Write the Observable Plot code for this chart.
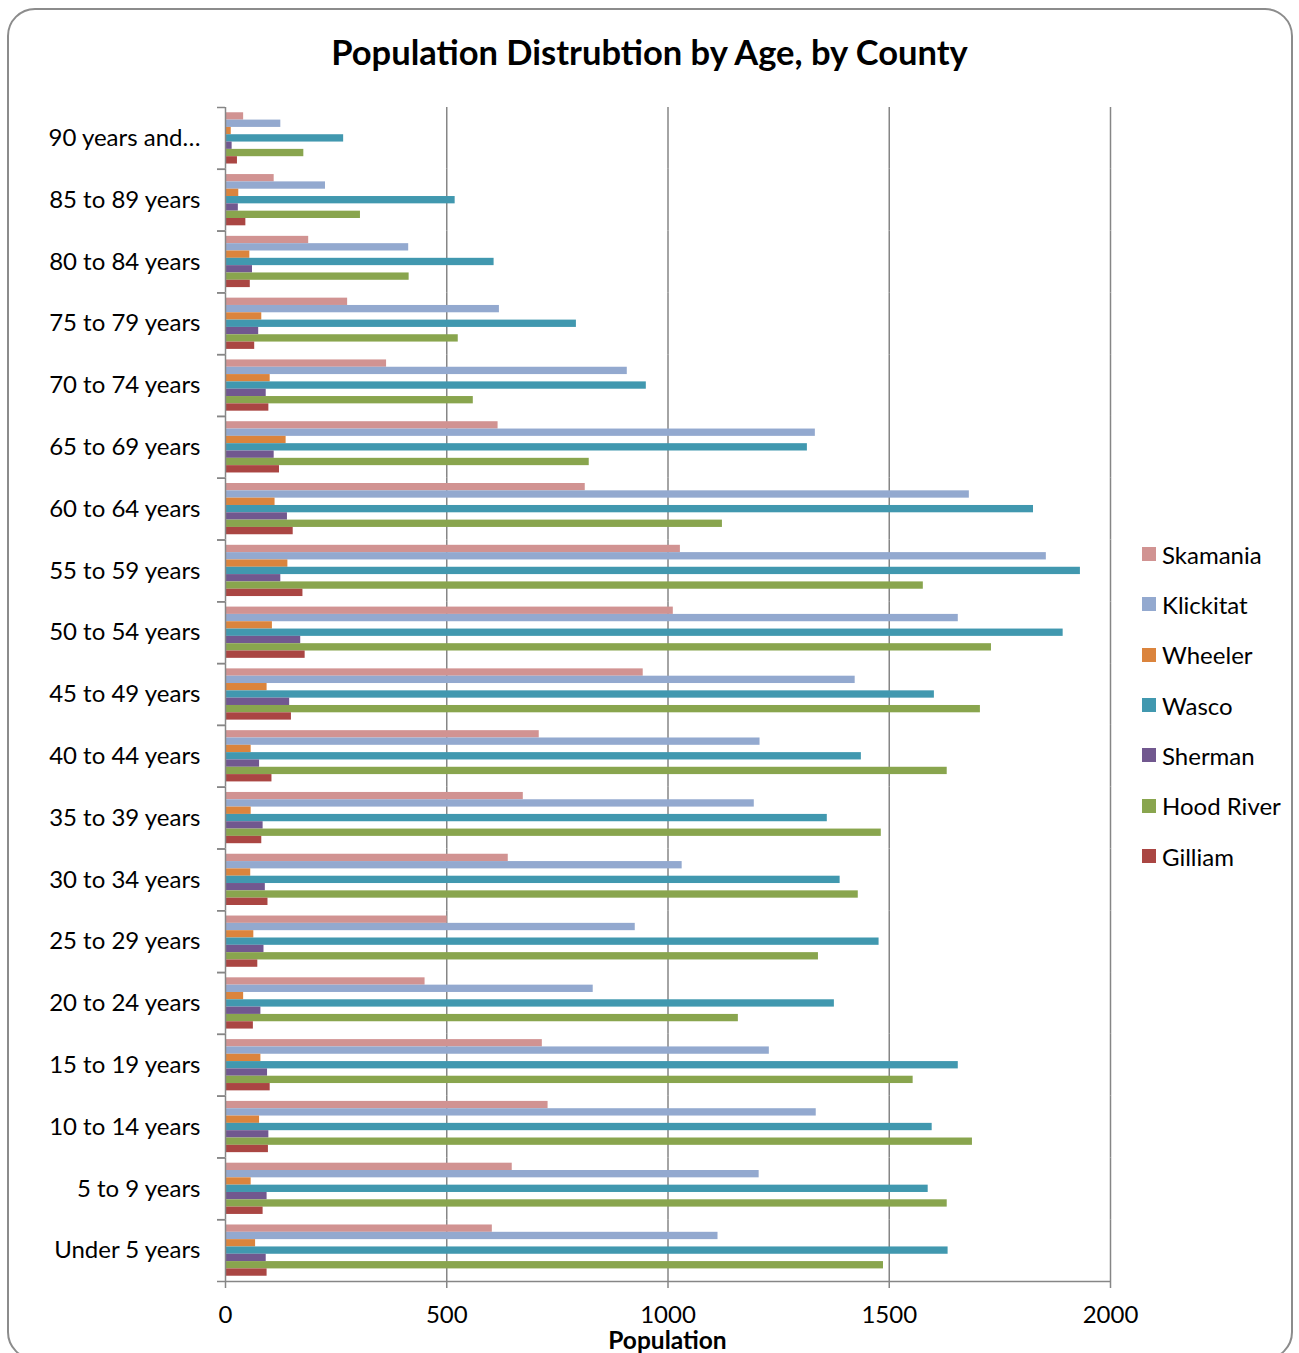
<!DOCTYPE html>
<html><head><meta charset="utf-8">
<script src="https://cdn.jsdelivr.net/npm/d3@7"></script>
<script src="https://cdn.jsdelivr.net/npm/@observablehq/plot@0.6"></script>
<style>
body{margin:0;background:#fff;font-family:Lato,"Open Sans",sans-serif;color:#000;}
#wrap{position:relative;width:1299px;height:1353px;overflow:hidden;}
#border{position:absolute;left:7px;top:8px;width:1286px;height:1352px;border:2px solid #8c8c8c;border-radius:28px;box-sizing:border-box;}
#title{position:absolute;left:0;width:1299px;top:30px;text-align:center;font-weight:bold;font-size:34.5px;line-height:44px;}
#chart{position:absolute;left:0;top:80px;}
#xlabel{position:absolute;left:225px;width:885px;top:1328px;text-align:center;font-weight:bold;font-size:24.5px;line-height:24px;}
#legend{position:absolute;left:1142px;top:529px;}
.row{height:50.33px;display:flex;align-items:center;font-size:24px;}
.sw{width:14px;height:14px;margin-right:6px;}
</style></head>
<body>
<div id="wrap">
  <div id="border"></div>
  <div id="title">Population Distrubtion by Age, by County</div>
  <div id="chart"></div>
  <div id="xlabel">Population</div>
  <div id="legend"></div>
</div>
<script>
const ages = ["Under 5 years","5 to 9 years","10 to 14 years","15 to 19 years","20 to 24 years","25 to 29 years","30 to 34 years","35 to 39 years","40 to 44 years","45 to 49 years","50 to 54 years","55 to 59 years","60 to 64 years","65 to 69 years","70 to 74 years","75 to 79 years","80 to 84 years","85 to 89 years","90 years and…"];
const counties = ["Skamania","Klickitat","Wheeler","Wasco","Sherman","Hood River","Gilliam"];
const colors = ["#D19392","#93A9CF","#DB843D","#4198AF","#71588F","#89A54E","#AA4643"];
const xTicks = [0, 500, 1000, 1500, 2000];

const skamania  = [603, 648, 729, 716, 451, 501, 639, 673, 709, 944, 1012, 1028, 813, 616, 364, 276, 188, 110, 41];
const klickitat = [1113, 1206, 1335, 1229, 831, 926, 1032, 1195, 1208, 1423, 1656, 1855, 1681, 1333, 908, 619, 414, 226, 125];
const wheeler   = [68, 58, 77, 80, 41, 64, 57, 58, 58, 94, 106, 141, 112, 137, 101, 82, 55, 30, 13];
const wasco     = [1633, 1588, 1597, 1656, 1376, 1477, 1389, 1360, 1437, 1602, 1893, 1932, 1826, 1315, 951, 793, 607, 519, 267];
const sherman   = [92, 94, 98, 95, 80, 87, 90, 85, 77, 145, 170, 125, 140, 110, 92, 75, 61, 29, 15];
const hoodRiver = [1487, 1631, 1688, 1554, 1159, 1340, 1430, 1482, 1631, 1706, 1731, 1577, 1123, 822, 560, 526, 415, 305, 177];
const gilliam   = [94, 85, 97, 101, 63, 73, 96, 82, 105, 149, 180, 175, 153, 122, 98, 66, 56, 46, 27];

const series = [skamania, klickitat, wheeler, wasco, sherman, hoodRiver, gilliam];
const data = counties.flatMap((c, j) => ages.map((a, i) => ({county: c, age: a, value: series[j][i]})));

const W = 1299, H = 1273, mT = 27, mB = 72, mL = 225, mR = 189;
const step = (H - mT - mB) / ages.length;
const padOuter = 0.72;
const yStep = step / (counties.length + 2 * padOuter);
const gray = "#868686";

const plot = Plot.plot({
  width: W, height: H,
  marginTop: mT, marginBottom: mB, marginLeft: mL, marginRight: mR,
  style: {fontFamily: "Lato", fontSize: "24px", color: "#000", background: "transparent"},
  x: {domain: [xTicks[0], xTicks[xTicks.length - 1]]},
  y: {domain: counties, paddingInner: 0, paddingOuter: padOuter, round: false, axis: null},
  fy: {domain: ages.slice().reverse(), padding: 0, round: false},
  color: {domain: counties, range: colors},
  marks: [
    Plot.ruleX(xTicks.slice(1), {stroke: gray, strokeWidth: 1.5}),
    Plot.barX(data, {x: "value", y: "county", fy: "age", fill: "county"}),
    Plot.ruleX([xTicks[0]], {stroke: gray, strokeWidth: 1.5}),
    Plot.ruleY([ages[0]], {fy: d => d, y: () => counties[counties.length - 1], x1: xTicks[0], x2: xTicks[xTicks.length - 1], dy: yStep * (padOuter + 0.5), stroke: gray, strokeWidth: 1.5}),
    Plot.axisFy({anchor: "left", tickSize: 0, tickPadding: 25, label: null}),
    Plot.axisFy({anchor: "left", tickSize: 8, tickFormat: () => "", dy: -step / 2, stroke: gray, strokeWidth: 1.5, label: null}),
    Plot.axisFy({anchor: "left", tickSize: 8, tickFormat: () => "", dy: step / 2, stroke: gray, strokeWidth: 1.5, label: null}),
    Plot.axisX(xTicks, {anchor: "bottom", tickSize: 7, tickPadding: 17, tickFormat: d => String(d), stroke: gray, strokeWidth: 1.5, label: null, facetAnchor: "bottom"})
  ]
});
document.getElementById("chart").appendChild(plot);

const legend = document.getElementById("legend");
counties.forEach((c, i) => {
  const row = document.createElement("div");
  row.className = "row";
  const sw = document.createElement("div");
  sw.className = "sw";
  sw.style.background = colors[i];
  const t = document.createElement("span");
  t.textContent = c;
  row.appendChild(sw); row.appendChild(t);
  legend.appendChild(row);
});
</script>
</body></html>
